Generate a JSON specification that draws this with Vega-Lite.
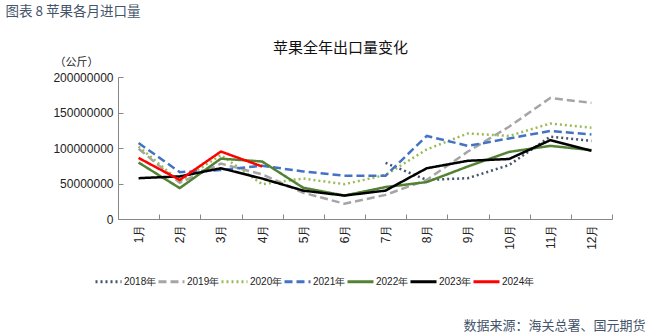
{
  "$schema": "https://vega.github.io/schema/vega-lite/v6.json",
  "width": 494,
  "height": 142,
  "autosize": {"type": "none"},
  "padding": {"left": 118, "top": 77, "right": 37, "bottom": 113},
  "background": "white",
  "config": {"view": {"stroke": null}},
  "data": {"values": [
    {"month": "7月", "year": "2018年", "value": 79000000},
    {"month": "8月", "year": "2018年", "value": 55000000},
    {"month": "9月", "year": "2018年", "value": 57500000},
    {"month": "10月", "year": "2018年", "value": 76000000},
    {"month": "11月", "year": "2018年", "value": 116000000},
    {"month": "12月", "year": "2018年", "value": 110000000},
    {"month": "1月", "year": "2019年", "value": 99000000},
    {"month": "2月", "year": "2019年", "value": 51000000},
    {"month": "3月", "year": "2019年", "value": 78000000},
    {"month": "4月", "year": "2019年", "value": 63000000},
    {"month": "5月", "year": "2019年", "value": 37000000},
    {"month": "6月", "year": "2019年", "value": 21500000},
    {"month": "7月", "year": "2019年", "value": 34000000},
    {"month": "8月", "year": "2019年", "value": 55000000},
    {"month": "9月", "year": "2019年", "value": 95000000},
    {"month": "10月", "year": "2019年", "value": 130000000},
    {"month": "11月", "year": "2019年", "value": 170500000},
    {"month": "12月", "year": "2019年", "value": 163500000},
    {"month": "1月", "year": "2020年", "value": 102000000},
    {"month": "2月", "year": "2020年", "value": 53000000},
    {"month": "3月", "year": "2020年", "value": 90000000},
    {"month": "4月", "year": "2020年", "value": 49000000},
    {"month": "5月", "year": "2020年", "value": 57000000},
    {"month": "6月", "year": "2020年", "value": 49000000},
    {"month": "7月", "year": "2020年", "value": 62000000},
    {"month": "8月", "year": "2020年", "value": 98000000},
    {"month": "9月", "year": "2020年", "value": 120500000},
    {"month": "10月", "year": "2020年", "value": 117000000},
    {"month": "11月", "year": "2020年", "value": 134500000},
    {"month": "12月", "year": "2020年", "value": 128500000},
    {"month": "1月", "year": "2021年", "value": 107000000},
    {"month": "2月", "year": "2021年", "value": 66000000},
    {"month": "3月", "year": "2021年", "value": 69000000},
    {"month": "4月", "year": "2021年", "value": 75000000},
    {"month": "5月", "year": "2021年", "value": 67000000},
    {"month": "6月", "year": "2021年", "value": 61000000},
    {"month": "7月", "year": "2021年", "value": 61000000},
    {"month": "8月", "year": "2021年", "value": 117000000},
    {"month": "9月", "year": "2021年", "value": 103000000},
    {"month": "10月", "year": "2021年", "value": 113500000},
    {"month": "11月", "year": "2021年", "value": 124000000},
    {"month": "12月", "year": "2021年", "value": 119000000},
    {"month": "1月", "year": "2022年", "value": 79500000},
    {"month": "2月", "year": "2022年", "value": 43500000},
    {"month": "3月", "year": "2022年", "value": 85000000},
    {"month": "4月", "year": "2022年", "value": 81000000},
    {"month": "5月", "year": "2022年", "value": 44000000},
    {"month": "6月", "year": "2022年", "value": 33000000},
    {"month": "7月", "year": "2022年", "value": 45000000},
    {"month": "8月", "year": "2022年", "value": 52000000},
    {"month": "9月", "year": "2022年", "value": 74000000},
    {"month": "10月", "year": "2022年", "value": 94500000},
    {"month": "11月", "year": "2022年", "value": 103000000},
    {"month": "12月", "year": "2022年", "value": 97000000},
    {"month": "1月", "year": "2023年", "value": 57500000},
    {"month": "2月", "year": "2023年", "value": 60000000},
    {"month": "3月", "year": "2023年", "value": 71500000},
    {"month": "4月", "year": "2023年", "value": 57000000},
    {"month": "5月", "year": "2023年", "value": 40000000},
    {"month": "6月", "year": "2023年", "value": 33000000},
    {"month": "7月", "year": "2023年", "value": 40000000},
    {"month": "8月", "year": "2023年", "value": 71500000},
    {"month": "9月", "year": "2023年", "value": 82000000},
    {"month": "10月", "year": "2023年", "value": 84500000},
    {"month": "11月", "year": "2023年", "value": 111000000},
    {"month": "12月", "year": "2023年", "value": 96000000},
    {"month": "1月", "year": "2024年", "value": 86000000},
    {"month": "2月", "year": "2024年", "value": 55000000},
    {"month": "3月", "year": "2024年", "value": 95000000},
    {"month": "4月", "year": "2024年", "value": 74000000}
  ]},
  "layer": [
    {
      "mark": {"type": "line", "strokeWidth": 2.5, "strokeCap": "butt"},
      "encoding": {
        "x": {
          "field": "month", "type": "ordinal",
          "sort": ["1月","2月","3月","4月","5月","6月","7月","8月","9月","10月","11月","12月"],
          "scale": {"type": "band", "paddingInner": 0, "paddingOuter": 0},
          "bandPosition": 0.5,
          "axis": {
            "orient": "bottom",
            "title": "数据来源：海关总署、国元期货",
            "titleFont": "Noto Sans CJK SC", "titleFontSize": 13, "titleFontWeight": "normal",
            "titleColor": "#44546A", "titleAlign": "right", "titleBaseline": "middle",
            "titleX": 527, "titleY": 106,
            "labelAngle": -90, "labelAlign": "right", "labelBaseline": "middle",
            "labelFont": "Liberation Sans", "labelFontSize": 12, "labelColor": "#222",
            "labelPadding": 10,
            "tickBand": "extent", "tickSize": -5, "tickColor": "#888", "domainColor": "#888",
            "grid": false
          }
        },
        "y": {
          "field": "value", "type": "quantitative",
          "scale": {"domain": [0, 200000000], "nice": false},
          "axis": {
            "values": [0, 50000000, 100000000, 150000000, 200000000],
            "format": "d",
            "title": "（公斤）",
            "titleFont": "Noto Sans CJK SC", "titleFontSize": 11, "titleFontWeight": "normal",
            "titleColor": "#222", "titleAngle": 0, "titleAlign": "center", "titleBaseline": "middle",
            "titleX": -42, "titleY": -15,
            "labelFont": "Liberation Sans", "labelFontSize": 12, "labelColor": "#222",
            "labelPadding": 10,
            "tickSize": -5, "tickColor": "#888", "domainColor": "#888",
            "grid": false
          }
        },
        "color": {
          "field": "year", "type": "nominal",
          "scale": {
            "domain": ["2018年","2019年","2020年","2021年","2022年","2023年","2024年"],
            "range": ["#44546A","#A5A5A5","#9BBB59","#4472C4","#548235","#000000","#FF0000"]
          },
          "legend": {
            "orient": "none", "direction": "horizontal", "columns": 7,
            "legendX": -24, "legendY": 190,
            "title": null,
            "symbolType": "stroke", "symbolSize": 676, "symbolStrokeWidth": 3,
            "labelFont": "Liberation Sans", "labelFontSize": 10, "labelColor": "#222",
            "labelOffset": 1, "columnPadding": -13.5
          }
        },
        "strokeDash": {
          "field": "year", "type": "nominal",
          "scale": {
            "domain": ["2018年","2019年","2020年","2021年","2022年","2023年","2024年"],
            "range": [[2,3],[8,4],[2,3],[8,4],[1,0],[1,0],[1,0]]
          },
          "legend": null
        }
      }
    },
    {
      "mark": {"type": "line", "opacity": 0},
      "encoding": {
        "x": {
          "field": "month", "type": "ordinal",
          "sort": ["1月","2月","3月","4月","5月","6月","7月","8月","9月","10月","11月","12月"],
          "scale": {"type": "band", "paddingInner": 0, "paddingOuter": 0},
          "bandPosition": 0.5,
          "axis": {
            "orient": "top", "labels": false, "ticks": false, "domain": false, "grid": false,
            "title": "苹果全年出口量变化",
            "titleFont": "Noto Sans CJK SC", "titleFontSize": 15, "titleFontWeight": "normal",
            "titleColor": "#111", "titleAlign": "center", "titleBaseline": "middle",
            "titleX": 222, "titleY": -30
          }
        },
        "y": {
          "field": "value", "type": "quantitative",
          "axis": {
            "orient": "right", "labels": false, "ticks": false, "domain": false, "grid": false,
            "title": "图表 8  苹果各月进口量",
            "titleFont": "Noto Sans CJK SC", "titleFontSize": 13.5, "titleFontWeight": "normal",
            "titleColor": "#44546A", "titleAngle": 0, "titleAlign": "left", "titleBaseline": "middle",
            "titleX": -607, "titleY": -66
          }
        },
        "detail": {"field": "year", "type": "nominal"}
      }
    }
  ],
  "resolve": {"axis": {"x": "independent", "y": "independent"}}
}
